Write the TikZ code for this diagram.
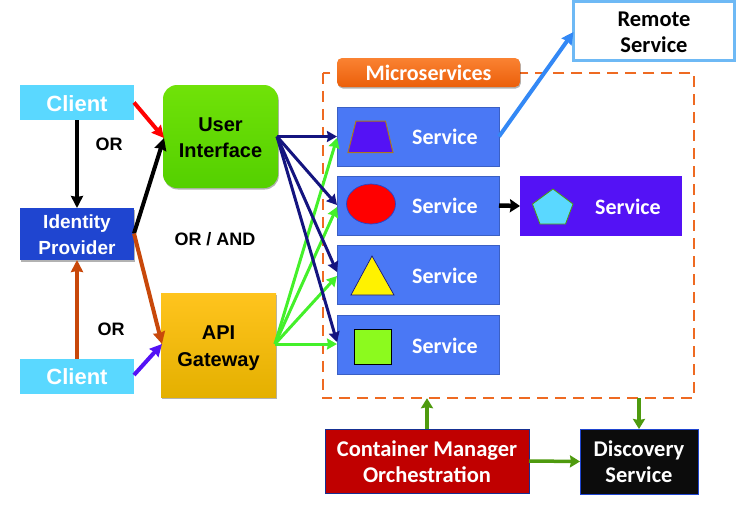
\documentclass[tikz,border=0pt]{standalone}
\usepackage{fontspec}
\setmainfont{Carlito}
\newfontfamily\arialf{Liberation Sans}
\usetikzlibrary{arrows.meta,shadows,calc}
\definecolor{cyanbox}{HTML}{5AD8FF}
\definecolor{idblue}{HTML}{1F45D0}
\definecolor{svcblue}{HTML}{4A78F5}
\definecolor{violet}{HTML}{5412F5}
\definecolor{navy}{HTML}{14147F}
\definecolor{lime}{HTML}{44F02A}
\definecolor{rust}{HTML}{C8480A}
\definecolor{dgreen}{HTML}{4E9A0E}
\definecolor{dashor}{HTML}{EE6A22}
\definecolor{sblue}{HTML}{3388F5}
\definecolor{redbox}{HTML}{C00000}
\tikzset{
  sq/.style={inner sep=0pt,outer sep=0pt,minimum width=#1},
  softshadow/.style={drop shadow={shadow xshift=0.8pt,shadow yshift=-1.5pt,opacity=0.3,fill=black}},
  arialbox/.style={font=\arialf\bfseries\fontsize{20}{26}\selectfont,align=center,inner sep=0pt},
  clientbox/.style={sq=114pt,minimum height=35pt,fill=cyanbox},
  clienttext/.style={text=white,font=\arialf\bfseries\fontsize{22}{26}\selectfont,inner sep=0pt,yshift=-1pt},
  svcbox/.style={sq=162pt,minimum height=59pt,fill=svcblue,draw=svcblue!80!black,line width=0.5pt},
  svctext/.style={font=\bfseries\fontsize{22}{26}\selectfont,text=white,inner sep=0pt},
  ortext/.style={font=\arialf\bfseries\fontsize{18}{22}\selectfont,inner sep=0pt},
  arr/.style={line width=#1,-{Stealth[length=12pt,width=12pt,inset=1pt]}},
  arr/.default=3pt,
  navyarr/.style={draw=navy,line width=3pt,-{Stealth[length=10pt,width=11pt,inset=1pt]}},
  limearr/.style={draw=lime,line width=3pt,-{Stealth[length=10pt,width=11pt,inset=1pt]}},
  greenarr/.style={draw=dgreen,line width=3.5pt,-{Stealth[length=10pt,width=12pt,inset=1pt]}},
}
\begin{document}
\begin{tikzpicture}[x=1pt,y=-1pt]
\useasboundingbox (0,0) rectangle (753,512);
% dashed frame
\node[draw=none,inner sep=0pt,minimum width=371pt,minimum height=325pt] (frame) at (508.5,235.5) {};
\draw[dashor,line width=2pt,dash pattern=on 11pt off 7pt] (frame.north west) rectangle (frame.south east);
% left column
\node[clientbox,label={[clienttext]center:Client}] (c1) at (77,102.5) {};
\node[sq=114pt,minimum height=52pt,fill=idblue,softshadow,label={[arialbox,text=white,font=\arialf\bfseries\fontsize{19}{26}\selectfont,yshift=-1pt]center:{Identity\\Provider}}] (idp) at (77,234) {};
\node[clientbox,label={[clienttext]center:Client}] (c2) at (77,376) {};
% UI and gateway
\node[sq=115pt,minimum height=103pt,rounded corners=14pt,top color={rgb,255:red,112;green,226;blue,8},bottom color={rgb,255:red,84;green,208;blue,0},softshadow,label={[arialbox,yshift=-1pt]center:{User\\Interface}}] (ui) at (220.5,136.5) {};
\node[sq=115pt,minimum height=104pt,top color={rgb,255:red,255;green,196;blue,30},middle color={rgb,255:red,255;green,192;blue,0},bottom color={rgb,255:red,228;green,176;blue,0},softshadow,label={[arialbox,font=\arialf\bfseries\fontsize{20}{27}\selectfont,yshift=-3pt]center:{API\\Gateway}}] (api) at (218.5,345) {};
% services
\node[svcbox] (s1) at (418,136.5) {};
\node[svcbox] (s2) at (418,205.5) {};
\node[svcbox] (s3) at (418,275) {};
\node[svcbox] (s4) at (418,345) {};
\node[sq=162pt,minimum height=60pt,fill=violet] (s5) at (601,206) {};
\node[svctext] (t1) at (445,137) {Service};
\node[svctext] (t2) at (445,206) {Service};
\node[svctext] (t3) at (445,276) {Service};
\node[svctext] (t4) at (445,346) {Service};
\node[svctext] (t5) at (628,207) {Service};
% shapes in the services
\draw[draw={rgb,255:red,170;green,120;blue,30},fill=violet,line width=1pt] (348,152.5)--(393,152.5)--(385.5,121)--(356,121)--cycle;
\draw[draw=idblue,fill=red,line width=0.7pt] (371,204) ellipse [x radius=24.5,y radius=20];
\draw[draw=dgreen,fill=cyanbox,line width=0.8pt] (553,189)--(573,204)--(565.5,224)--(540,224)--(532.5,204)--cycle;
\draw[draw=navy,fill=yellow,line width=0.7pt] (372,256)--(394,295)--(351,295)--cycle;
\draw[draw=black,fill={rgb,255:red,140;green,250;blue,30},line width=1pt] (354,329) rectangle (391,364);
% tag
\node[sq=183pt,minimum height=29pt,rounded corners=5pt,top color={rgb,255:red,250;green,130;blue,50},bottom color={rgb,255:red,235;green,95;blue,10},text=white,font=\bfseries\fontsize{22}{26}\selectfont,softshadow] (tag) at (428.5,72.5) {Microservices};
% remote
\node[sq=161pt,minimum height=59pt,draw={rgb,255:red,110;green,185;blue,245},line width=3pt,fill=white,label={[align=center,inner sep=0pt,font=\bfseries\fontsize{22.5}{26}\selectfont,yshift=-1.5pt]center:{Remote\\Service}}] (remote) at (654,31) {};
% bottom
\node[sq=204pt,minimum height=64pt,fill=redbox,draw=idblue!70!black,line width=0.5pt,label={[text=white,align=center,inner sep=0pt,font=\bfseries\fontsize{22.5}{25.5}\selectfont,yshift=-0.5pt]center:{Container Manager\\Orchestration}}] (cm) at (427,461) {};
\node[sq=118pt,minimum height=65pt,fill={rgb,255:red,12;green,12;blue,12},draw=idblue,line width=0.5pt,label={[text=white,align=center,inner sep=0pt,font=\bfseries\fontsize{22.5}{26}\selectfont,yshift=-0.5pt]center:{Discovery\\Service}}] (ds) at (639,461.5) {};
% labels
\node[ortext] (or1) at (109,144) {OR};
\node[ortext] (or2) at (111,329) {OR};
\node[ortext] (or3) at (215,239) {OR / AND};
% coordinates
\coordinate (idpr) at (134,233.5);
\coordinate (uiL) at (164,138);
\coordinate (apiL) at (162,344);
\coordinate (uiR) at (277,136.5);
\coordinate (apiR) at (275,344);
% left connectors
\draw[black,arr=4pt] (c1.south) -- (idp.north);
\draw[rust,arr=4pt] (c2.north) -- (idp.south);
\draw[red,arr=4pt] (c1.east) -- (uiL);
\draw[black,arr=4pt] (idpr) -- (uiL);
\draw[rust,arr=4pt] (idpr) -- (apiL);
\draw[violet,arr=4pt] ($(c2.east)+(0,-1)$) -- (apiL);
% lime
\foreach \t/\dy in {s1/1.5,s2/1.5,s3/1,s4/-1}{\draw[limearr] (apiR) -- ($(\t.west)+(0,\dy)$);}
% navy
\foreach \t/\dy in {s1/0,s2/-0.5,s3/-3,s4/-3}{\draw[navyarr] (uiR) -- ($(\t.west)+(0,\dy)$);}
% others
\draw[sblue,arr=4pt] (s1.east) -- ($(remote.west)+(0,1)$);
\draw[black,line width=4.5pt,-{Stealth[length=10pt,width=13pt,inset=1pt]}] (s2.east) -- (s5.west);
\draw[greenarr] (cm.north) -- (cm.north |- frame.south);
\draw[greenarr] (ds.north |- frame.south) -- (ds.north);
\draw[greenarr] (cm.east) -- (ds.west);
\end{tikzpicture}
\end{document}
